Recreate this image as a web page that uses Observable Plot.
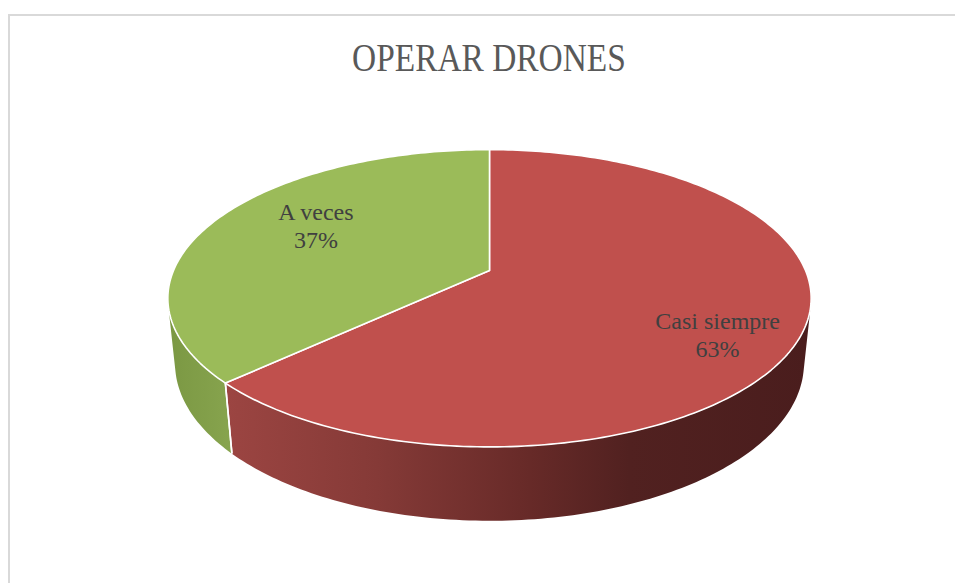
<!DOCTYPE html>
<html>
<head>
<meta charset="utf-8">
<script src="https://cdn.jsdelivr.net/npm/d3@7"></script>
<script src="https://cdn.jsdelivr.net/npm/@observablehq/plot@0.6"></script>
<style>
  body { margin: 0; background: #fff; width: 955px; height: 583px; overflow: hidden; position: relative; }
  #frame { position: absolute; left: 8px; top: 14px; width: 1200px; height: 900px; border: 2px solid #d9d9d9; box-sizing: border-box; }
  #title { position: absolute; left: 0; top: 35px; width: 978px; text-align: center; line-height: 46px;
           font-family: "Liberation Serif", serif; font-size: 40px; color: #595959; }
  #title span { display: inline-block; transform: scaleX(0.835); transform-origin: center; }
  #chart { position: absolute; left: 0; top: 100px; }
</style>
</head>
<body>
<div id="frame"></div>
<div id="title"><span>OPERAR DRONES</span></div>
<div id="chart"></div>
<script>
// ---- data ----
const categories = ["Casi siempre", "A veces"];
const values = [63, 37];
const title = "OPERAR DRONES";

// ---- style ----
const topColors = ["#c0504d", "#9bbb59"];
const sideStops = [
  [[0, "#9c4542"], [0.26, "#853a37"], [0.52, "#672a28"], [0.69, "#512120"], [1, "#4a1d1d"]],
  [[0, "#7b9843"], [1, "#87a44e"]]
];

// ---- 3D geometry (perspective view of a disc) ----
const DEG = Math.PI / 180;
const tilt = 27 * DEG, camDist = 4.77, thickness = 0.233;
function project(theta, r, Y) {
  const X = r * Math.sin(theta), D = r * Math.cos(theta);
  const up = D * Math.sin(tilt) + Y * Math.cos(tilt);
  const depth = camDist + D * Math.cos(tilt) - Y * Math.sin(tilt);
  return {x: X * camDist / depth, y: up * camDist / depth};
}
const total = d3.sum(values);
let acc = 0;
const slices = categories.map((c, i) => {
  const a0 = acc / total * 2 * Math.PI;
  acc += values[i];
  const a1 = acc / total * 2 * Math.PI;
  return {category: c, value: values[i], index: i, a0, a1,
          pct: Math.round(values[i] / total * 100) + "%"};
});
const tTan = Math.acos(-1 / (camDist * Math.cos(tilt)));

const topPts = [];
const sidePolys = [];
const separators = [];
slices.forEach(s => {
  const n = Math.max(4, Math.ceil((s.a1 - s.a0) / (2 * Math.PI) * 360));
  const c = project(0, 0, 0);
  topPts.push({...c, category: s.category});
  for (let k = 0; k <= n; k++) {
    const t = s.a0 + (s.a1 - s.a0) * k / n;
    topPts.push({...project(t, 1, 0), category: s.category});
  }
  topPts.push({...c, category: s.category});
  const lo = Math.max(s.a0, tTan), hi = Math.min(s.a1, 2 * Math.PI - tTan);
  const poly = [];
  if (hi > lo) {
    const m = Math.max(4, Math.ceil((hi - lo) / (2 * Math.PI) * 360));
    for (let k = 0; k <= m; k++) poly.push(project(lo + (hi - lo) * k / m, 1, 0));
    for (let k = m; k >= 0; k--) poly.push(project(lo + (hi - lo) * k / m, 1, -thickness));
    poly.push(poly[0]);
  }
  sidePolys.push(poly);
  [s.a0, s.a1].forEach(a => {
    if (a > tTan && a < 2 * Math.PI - tTan) {
      const p = project(a, 1, 0), q = project(a, 1, -thickness);
      separators.push({x1: p.x, y1: p.y, x2: q.x, y2: q.y});
    }
  });
});
const labelR = 0.6;
const labels = slices.map(s => {
  const p = project((s.a0 + s.a1) / 2, labelR, 0);
  return {...p, text: s.category + "\n" + s.pct, index: s.index};
});
const labelOffsets = [[46, 28], [-7, -13]];

const marks = [];
sidePolys.forEach((poly, i) => {
  if (poly.length) marks.push(Plot.line(poly, {x: "x", y: "y", fill: `url(#side-${i})`, stroke: "none"}));
});
marks.push(Plot.link(separators, {x1: "x1", y1: "y1", x2: "x2", y2: "y2", stroke: "white", strokeWidth: 1.6}));
marks.push(Plot.line(topPts, {x: "x", y: "y", z: "category", fill: "category", stroke: "white", strokeWidth: 1.6, strokeLinejoin: "round"}));
labels.forEach(l => {
  marks.push(Plot.text([l], {x: "x", y: "y", text: "text", fontSize: 24, fontFamily: "Liberation Serif",
    fill: "#404040", lineHeight: 1.17, dx: labelOffsets[l.index][0], dy: labelOffsets[l.index][1]}));
});

const plot = Plot.plot({
  width: 955, height: 483,
  margin: 0,
  x: {domain: [-1, 1], range: [173, 805], axis: null},
  y: {domain: [-1, 1], range: [170 + 316, 170 - 316], axis: null},
  color: {domain: categories, range: topColors},
  style: {background: "transparent", overflow: "visible"},
  marks
});
const svg = plot.tagName.toLowerCase() === "svg" ? plot : plot.querySelector("svg");
const NS = "http://www.w3.org/2000/svg";
const defs = document.createElementNS(NS, "defs");
sideStops.forEach((stops, i) => {
  const g = document.createElementNS(NS, "linearGradient");
  g.setAttribute("id", `side-${i}`);
  g.setAttribute("x1", "0"); g.setAttribute("x2", "1"); g.setAttribute("y1", "0"); g.setAttribute("y2", "0");
  stops.forEach(([o, c]) => {
    const st = document.createElementNS(NS, "stop");
    st.setAttribute("offset", o); st.setAttribute("stop-color", c);
    g.appendChild(st);
  });
  defs.appendChild(g);
});
svg.insertBefore(defs, svg.firstChild);
document.getElementById("chart").appendChild(plot);
</script>
</body>
</html>
